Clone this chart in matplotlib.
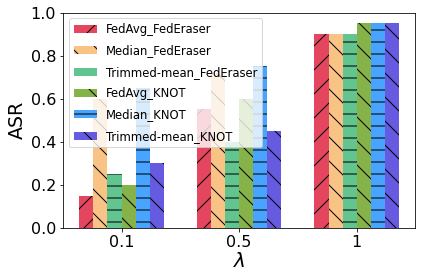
import matplotlib
matplotlib.use("Agg")
import matplotlib.pyplot as plt
import numpy as np

lambdas = ['0.1', '0.5', '1']
fedavg_federaser = [0.15, 0.55, 0.9]
median_federaser = [0.6, 0.72, 0.9]
trimmed_federaser = [0.25, 0.4, 0.9]
fedavg_knot = [0.2, 0.6, 0.95]
median_knot = [0.65, 0.75, 0.95]
trimmed_knot = [0.3, 0.45, 0.95]

series = [
    ('FedAvg_FedEraser', fedavg_federaser, '#e4455f', '/'),
    ('Median_FedEraser', median_federaser, '#f9c386', '\\'),
    ('Trimmed-mean_FedEraser', trimmed_federaser, '#62c48e', '-'),
    ('FedAvg_KNOT', fedavg_knot, '#86b24a', '\\'),
    ('Median_KNOT', median_knot, '#48a4fe', '-'),
    ('Trimmed-mean_KNOT', trimmed_knot, '#665ae0', '\\'),
]

fig = plt.figure(figsize=(424 / 72, 280 / 72), dpi=72)
ax = fig.add_axes([0.149, 0.186, 0.83, 0.769])

x = np.arange(len(lambdas))
width = 0.12
for i, (name, vals, color, hatch) in enumerate(series):
    ax.bar(x + (i - 2.5) * width, vals, width, color=color, hatch=hatch, label=name)

ax.set_ylim(0, 1.0)
ax.set_xticks(x)
ax.set_xticklabels(lambdas)
ax.tick_params(labelsize=16)
ax.set_ylabel('ASR', fontsize=19)
ax.set_xlabel(r'$\lambda$', fontsize=20, labelpad=2)
ax.legend(loc='upper left', fontsize=11.6, labelspacing=0.72)

fig.savefig('out.png', dpi=72)
